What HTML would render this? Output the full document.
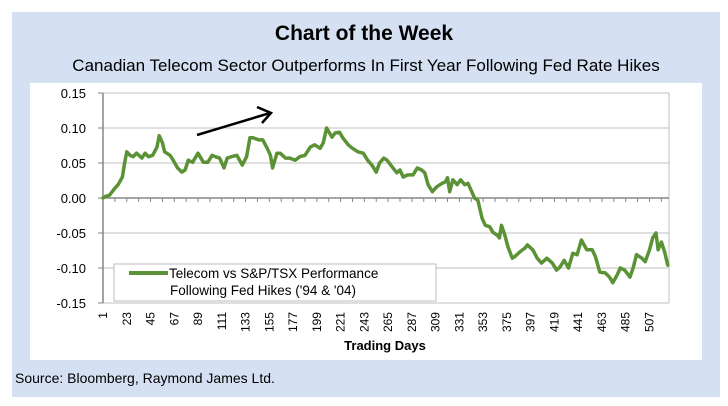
<!DOCTYPE html>
<html><head><meta charset="utf-8"><style>
html,body{margin:0;padding:0;background:#fff;}
svg{display:block;font-family:"Liberation Sans",sans-serif;}
</style></head><body>
<svg id="chart" width="728" height="406" viewBox="0 0 728 406">
<rect x="12" y="12" width="708" height="385" fill="#d5e1f3"/>
<rect x="30" y="83" width="672" height="277" fill="#ffffff"/>
<text x="364" y="40" text-anchor="middle" font-size="21" font-weight="bold" fill="#000">Chart of the Week</text>
<text x="366" y="71" text-anchor="middle" font-size="17" fill="#000">Canadian Telecom Sector Outperforms In First Year Following Fed Rate Hikes</text>
<text x="15" y="383" font-size="14" fill="#000">Source: Bloomberg, Raymond James Ltd.</text>
<g id="grid"></g>
<g id="axes"></g>
<g id="series"></g>
<line x1="197" y1="135" x2="270" y2="113" stroke="#000" stroke-width="2.5"/>
<polyline points="257,107 271,113 262,123" fill="none" stroke="#000" stroke-width="2.5"/>
<g>
<rect x="114" y="264" width="322" height="37" fill="#fff" stroke="#bdbdbd" stroke-width="1"/>
<line x1="129" y1="273" x2="168" y2="273" stroke="#5b9236" stroke-width="4"/>
<text x="169" y="278" font-size="13.5" fill="#000">Telecom vs S&amp;P/TSX Performance</text>
<text x="170" y="295" font-size="13.5" fill="#000">Following Fed Hikes ('94 &amp; '04)</text>
</g>
<text x="385" y="350" text-anchor="middle" font-size="13" font-weight="bold" fill="#000">Trading Days</text>
</svg>
<script>
const days = [1,3,7,12,15,19,21,23,26,29,32,37,40,43,47,51,53,56,58,63,66,70,74,77,80,84,89,94,98,102,105,109,113,116,120,125,130,134,137,140,145,149,153,156,158,162,165,170,174,179,183,188,193,197,202,205,208,213,216,220,223,228,232,237,242,246,250,254,257,261,264,269,273,276,279,283,288,292,296,299,302,306,310,315,318,320,322,325,329,332,336,339,343,345,348,352,355,359,362,366,368,370,373,376,380,382,387,392,394,399,403,407,412,417,421,424,428,432,436,440,444,449,454,457,461,466,470,473,477,480,484,489,492,495,500,503,507,510,513,515,518,521,524];
const values = [0,0.002,0.004,0.014,0.019,0.030,0.050,0.066,0.061,0.059,0.064,0.057,0.064,0.059,0.061,0.073,0.089,0.079,0.066,0.061,0.054,0.043,0.037,0.040,0.054,0.051,0.064,0.051,0.051,0.061,0.059,0.057,0.043,0.057,0.059,0.061,0.047,0.059,0.086,0.086,0.083,0.083,0.071,0.061,0.043,0.064,0.064,0.057,0.057,0.054,0.059,0.061,0.073,0.076,0.071,0.079,0.100,0.087,0.093,0.094,0.086,0.076,0.071,0.066,0.064,0.054,0.047,0.037,0.050,0.057,0.054,0.044,0.036,0.040,0.030,0.033,0.033,0.043,0.040,0.036,0.019,0.009,0.016,0.021,0.023,0.029,0.009,0.026,0.019,0.026,0.019,0.021,0.007,0,-0.003,-0.029,-0.039,-0.041,-0.049,-0.053,-0.057,-0.039,-0.053,-0.070,-0.086,-0.084,-0.077,-0.071,-0.067,-0.074,-0.086,-0.093,-0.086,-0.093,-0.103,-0.099,-0.089,-0.100,-0.079,-0.081,-0.060,-0.074,-0.074,-0.084,-0.106,-0.107,-0.113,-0.121,-0.110,-0.100,-0.103,-0.113,-0.099,-0.081,-0.086,-0.091,-0.074,-0.057,-0.050,-0.074,-0.063,-0.077,-0.096];
const yTicks = [0.15,0.10,0.05,0.00,-0.05,-0.10,-0.15];
const yTickLabels = ["0.15","0.10","0.05","0.00","-0.05","-0.10","-0.15"];
const xTickLabels = [1,23,45,67,89,111,133,155,177,199,221,243,265,287,309,331,353,375,397,419,441,463,485,507];

const NS = "http://www.w3.org/2000/svg";
const X0 = 103, XPER = 1.08, Y0 = 198, YPER = 700;
const xs = d => X0 + (d - 1) * XPER;
const ys = v => Y0 - v * YPER;
function mk(tag, attrs, parent) {
  const e = document.createElementNS(NS, tag);
  for (const k in attrs) e.setAttribute(k, attrs[k]);
  parent.appendChild(e);
  return e;
}
const gridG = document.getElementById('grid');
const axesG = document.getElementById('axes');
const seriesG = document.getElementById('series');
const plotRight = 669, plotTop = ys(0.15), plotBottom = ys(-0.15);

yTicks.forEach((t, i) => {
  const y = ys(t);
  if (t !== 0) {
    const g = mk('line', {x1: X0, x2: plotRight, y1: y, y2: y, stroke: '#bfbfbf', 'stroke-width': 1}, gridG);
    
    
  }
  const tk = mk('line', {x1: X0 - 5, x2: X0, y1: y, y2: y, stroke: '#868686', 'stroke-width': 1}, axesG);
  
  
  const tx = mk('text', {x: 86, y: y + 5, 'text-anchor': 'end', 'font-size': 13, fill: '#000'}, axesG);
  tx.textContent = yTickLabels[i];
  
  
});
const rb = mk('line', {x1: plotRight, x2: plotRight, y1: plotTop, y2: plotBottom, stroke: '#bfbfbf', 'stroke-width': 1}, gridG);


const yAxis = mk('line', {x1: X0, x2: X0, y1: plotTop, y2: plotBottom, stroke: '#868686', 'stroke-width': 1.5}, axesG);


const xAxis = mk('line', {x1: X0, x2: plotRight, y1: Y0, y2: Y0, stroke: '#868686', 'stroke-width': 1.5}, axesG);


for (let d = 1; d <= 525; d += 11) {
  const x = xs(d);
  const tk = mk('line', {x1: x, x2: x, y1: Y0, y2: Y0 + 4, stroke: '#868686', 'stroke-width': 1}, axesG);
  
  
}
xTickLabels.forEach(d => {
  const x = xs(d) + 4;
  const tx = mk('text', {x: x, y: 312, 'text-anchor': 'end', 'font-size': 12, fill: '#000', transform: `rotate(-90 ${x} 312)`}, axesG);
  tx.textContent = String(d);
  
  
});
const pts = days.map((d, i) => xs(d).toFixed(1) + ',' + ys(values[i]).toFixed(1)).join(' ');
const line = mk('polyline', {points: pts, fill: 'none', stroke: '#5b9236', 'stroke-width': 3.5, 'stroke-linejoin': 'round', 'stroke-linecap': 'round'}, seriesG);


</script>
</body></html>
